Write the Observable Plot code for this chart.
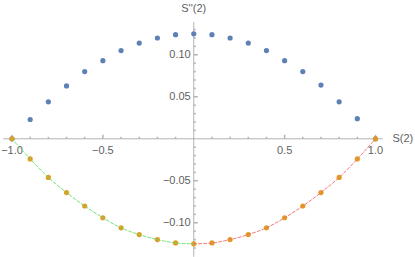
<!DOCTYPE html>
<html>
<head>
<meta charset="utf-8">
<script src="https://cdn.jsdelivr.net/npm/d3@7"></script>
<script src="https://cdn.jsdelivr.net/npm/@observablehq/plot@0.6"></script>
<style>
  html, body { margin: 0; padding: 0; background: #fff; }
  #chart svg { display: block; }
</style>
</head>
<body>
<div id="chart"></div>
<script>
// ---- data ----
const xs = [-1.0, -0.9, -0.8, -0.7, -0.6, -0.5, -0.4, -0.3, -0.2, -0.1, 0.0,
            0.1, 0.2, 0.3, 0.4, 0.5, 0.6, 0.7, 0.8, 0.9, 1.0];
const upper = [0.000, 0.023, 0.044, 0.063, 0.080, 0.093, 0.105, 0.114, 0.120, 0.124, 0.125,
               0.124, 0.120, 0.114, 0.105, 0.093, 0.080, 0.064, 0.044, 0.024, 0.000];
const lower = [0.000, -0.024, -0.046, -0.064, -0.080, -0.094, -0.106, -0.114, -0.120, -0.124, -0.125,
               -0.124, -0.120, -0.114, -0.106, -0.094, -0.080, -0.064, -0.046, -0.024, 0.000];

const xMajorTicks = [-1.0, -0.5, 0.5, 1.0];
const xTickLabels = ["\u22121.0", "\u22120.5", "0.5", "1.0"];
const xMinorTicks = [-0.9, -0.8, -0.7, -0.6, -0.4, -0.3, -0.2, -0.1, 0.1, 0.2, 0.3, 0.4, 0.6, 0.7, 0.8, 0.9];
const yMajorTicks = [-0.10, -0.05, 0.05, 0.10];
const yTickLabels = ["\u22120.10", "\u22120.05", "0.05", "0.10"];
const yMinorTicks = [-0.13, -0.12, -0.11, -0.09, -0.08, -0.07, -0.06, -0.04, -0.03, -0.02, -0.01,
                     0.01, 0.02, 0.03, 0.04, 0.06, 0.07, 0.08, 0.09, 0.11, 0.12, 0.13];
const xAxisLabel = "S(2)";
const yAxisLabel = "S''(2)";
const xExtent = [-1.045, 1.042];
const yExtent = [-0.141, 0.1385];

// ---- derived tables ----
const upperPts = xs.map((x, i) => ({x, y: upper[i]}));
const lowerPts = xs.map((x, i) => ({x, y: lower[i]}));
const leftHalf = lowerPts.filter(d => d.x <= 0);
const rightHalf = lowerPts.filter(d => d.x >= 0);

// tick glyphs
const tickUp = len => ({draw(ctx) { ctx.moveTo(0, 0); ctx.lineTo(0, -len); }});
const tickRight = len => ({draw(ctx) { ctx.moveTo(0, 0); ctx.lineTo(len, 0); }});

const axisColor = "#b3b3b3";
const labelColor = "#5f5f5f";
const font = "Liberation Sans, Arial, sans-serif";

const chart = Plot.plot({
  width: 415,
  height: 257,
  margin: 0,
  style: {fontFamily: font, background: "#fff", overflow: "visible"},
  x: {domain: [-1, 1], range: [11.5, 375], axis: null},
  y: {domain: [-0.1, 0.1], range: [222.3, 54.3], axis: null},
  marks: [
    // axes lines
    Plot.ruleY([0], {x1: xExtent[0], x2: xExtent[1], stroke: axisColor, strokeWidth: 1}),
    Plot.ruleX([0], {y1: yExtent[0], y2: yExtent[1], stroke: axisColor, strokeWidth: 1}),
    // x ticks
    Plot.dot(xMajorTicks, {x: d => d, y: () => 0, symbol: tickUp(4), fill: "none", stroke: axisColor}),
    Plot.dot(xMinorTicks, {x: d => d, y: () => 0, symbol: tickUp(2), fill: "none", stroke: axisColor}),
    // y ticks
    Plot.dot(yMajorTicks, {x: () => 0, y: d => d, symbol: tickRight(4), fill: "none", stroke: axisColor}),
    Plot.dot(yMinorTicks, {x: () => 0, y: d => d, symbol: tickRight(2), fill: "none", stroke: axisColor}),
    // tick labels
    Plot.text(xMajorTicks, {x: d => d, y: () => 0, text: (d, i) => xTickLabels[i], dy: 12,
      lineAnchor: "middle", textAnchor: "middle", fill: labelColor, fontSize: 11}),
    Plot.text(yMajorTicks, {x: () => 0, y: d => d, text: (d, i) => yTickLabels[i], dx: -3,
      lineAnchor: "middle", textAnchor: "end", fill: labelColor, fontSize: 11}),
    // axis labels
    Plot.text([yAxisLabel], {x: () => 0, frameAnchor: "top", text: d => d, dy: 8,
      lineAnchor: "middle", textAnchor: "middle", fill: labelColor, fontSize: 11}),
    Plot.text([xAxisLabel], {x: () => 1, y: () => 0, text: d => d, dx: 17,
      lineAnchor: "middle", textAnchor: "start", fill: labelColor, fontSize: 11}),
    // points
    Plot.dot(upperPts, {x: "x", y: "y", r: 2.6, fill: "#5E81B5", stroke: "none"}),
    Plot.dot(lowerPts, {x: "x", y: "y", r: 2.6, fill: "#E19C24", stroke: "none"}),
    // dashed curves
    Plot.line(leftHalf, {x: "x", y: "y", curve: "catmull-rom", stroke: "#66dd66", strokeWidth: 1,
      strokeDasharray: "3,2", strokeOpacity: 0.9}),
    Plot.line(rightHalf, {x: "x", y: "y", curve: "catmull-rom", stroke: "#f06a6a", strokeWidth: 1,
      strokeDasharray: "3,2", strokeOpacity: 0.9})
  ]
});
document.getElementById("chart").appendChild(chart);
</script>
</body>
</html>
